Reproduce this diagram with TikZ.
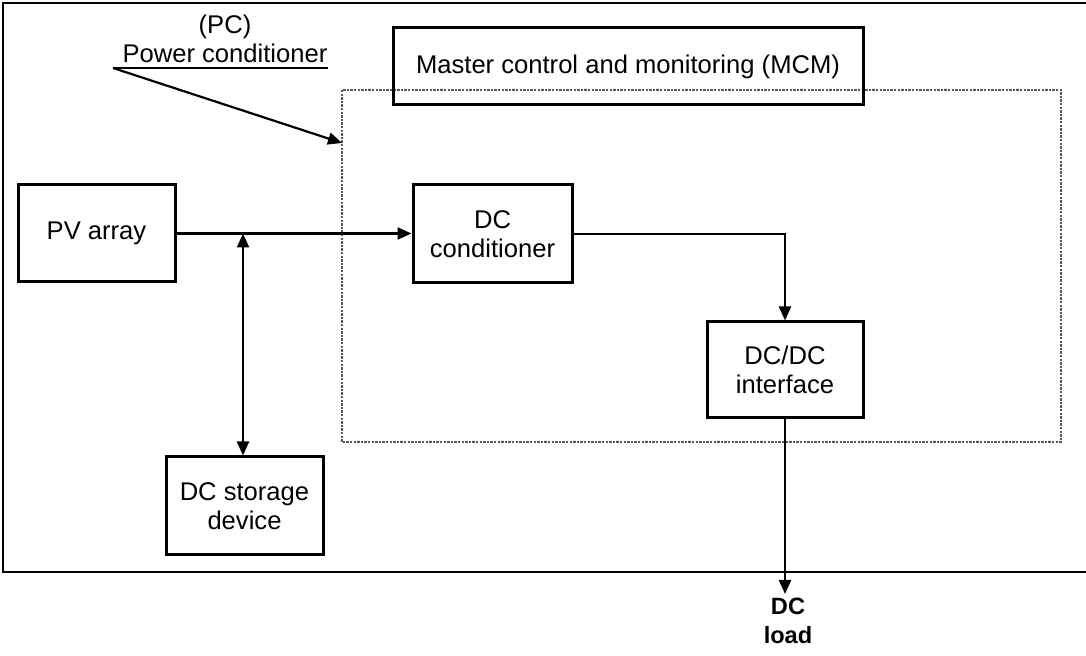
\documentclass[tikz,border=0pt]{standalone}
\usepackage{fontspec}
\setmainfont{Liberation Sans}
\usetikzlibrary{arrows.meta}
\tikzset{
  blk/.style={draw, line width=1.5pt, align=center, inner sep=0pt,
    font=\fontsize{12.8}{14.5}\selectfont},
  tip/.style={},
  conn/.style={line width=1.1pt, -{Triangle[length=7pt,width=6pt]}},
  dconn/.style={line width=1.1pt, {Triangle[length=7pt,width=6pt]}-{Triangle[length=7pt,width=6pt]}},
  lbl/.style={inner sep=0pt, font=\fontsize{12.8}{14.5}\selectfont},
  dotbox/.style={draw=black!65, line width=0.6pt, dash pattern=on 1.2pt off 0.6pt},
  frame/.style={draw, line width=1.4pt}
}
\begin{document}
\begin{tikzpicture}[x=0.5pt,y=-0.5pt]
\useasboundingbox (0,0) rectangle (1086,656);
% outer frame (right side runs off the picture)
\draw[frame] (1090,3) -- (3,3) -- (3,572) -- (1090,572);
% dotted power-conditioner region
\draw[dotbox] (342,90) rectangle (1061,442);
\coordinate (pcarrow) at (342,143);
% label
\node[lbl] (pc) at (225,27) {(PC)};
\node[lbl] (pctext) at (225,53) {Power conditioner};
\coordinate (ulA) at (113,68);
\coordinate (ulB) at (328,68);
\draw[line width=0.9pt] (ulA) -- (ulB);
\draw[conn] (ulA) -- (pcarrow);
% blocks
\node[blk, minimum width=235pt, minimum height=38.5pt] (mcm) at (628,66.5) {Master control and monitoring (MCM)};
\node[blk, minimum width=78.5pt, minimum height=48.5pt] (pv) at (96.5,233.5) {PV array};
\node[blk, minimum width=79.5pt, minimum height=49pt] (dcc) at (492.5,234) {DC\\conditioner};
\node[blk, minimum width=78pt, minimum height=48pt] (dcdc) at (785,370) {DC/DC\\interface};
\node[blk, minimum width=78.5pt, minimum height=49pt] (store) at (244.5,506) {DC storage\\device};
\node[lbl, anchor=north, align=center, inner sep=2pt, font=\fontsize{11.8}{14.5}\selectfont\bfseries] (load) at (788,594) {DC\\load};
% connectors
\coordinate (junc) at (243,233.5);
\draw[conn] (pv.east) -- (pv.east -| dcc.west);
\draw[dconn] (junc) -- (junc |- store.north);
\draw[conn] (dcc.east) -| (dcdc.north);
\draw[conn] (dcdc.south) -- (dcdc.south |- load.north);
\end{tikzpicture}
\end{document}
